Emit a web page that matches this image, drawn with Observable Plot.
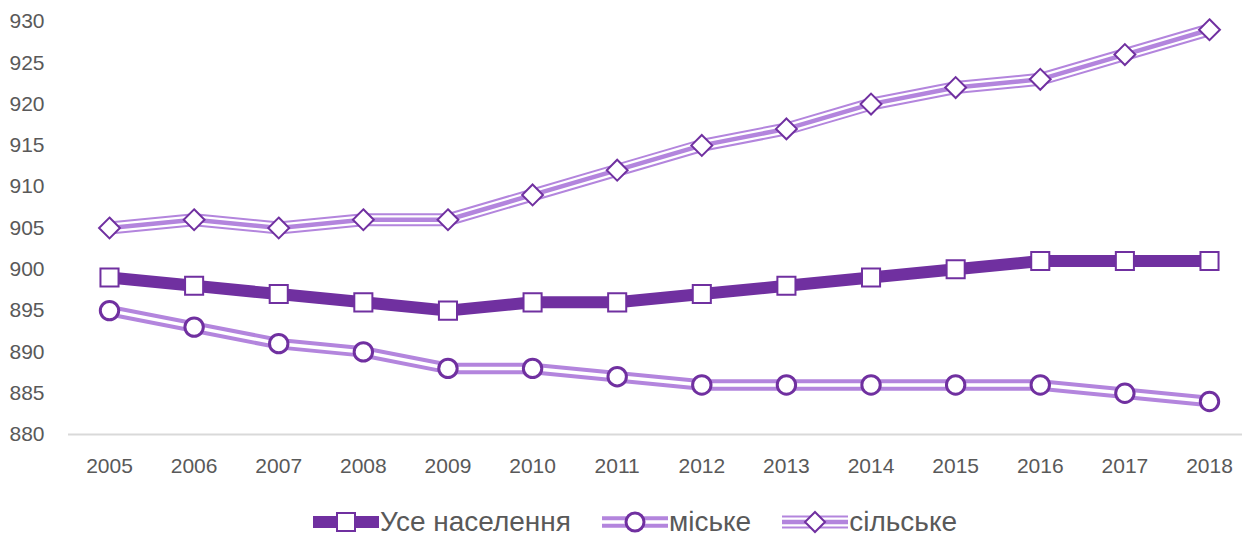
<!DOCTYPE html>
<html>
<head>
<meta charset="utf-8">
<script src="https://cdn.jsdelivr.net/npm/d3@7"></script>
<script src="https://cdn.jsdelivr.net/npm/@observablehq/plot@0.6"></script>
<style>
  body { margin: 0; background: white; font-family: "Liberation Sans", Arial, sans-serif; }
  #chart svg { display: block; }
  #legend { display: flex; align-items: center; height: 64px; padding-left: 313px; color: #595959; font-size: 28px; }
  .item { display: flex; align-items: center; margin-right: 31px; }
  .item svg { display: block; margin-right: 1px; }
</style>
</head>
<body>
<div id="chart"></div>
<div id="legend"></div>
<script>
const years = ["2005","2006","2007","2008","2009","2010","2011","2012","2013","2014","2015","2016","2017","2018"];
const total = [899, 898, 897, 896, 895, 896, 896, 897, 898, 899, 900, 901, 901, 901];
const urban = [895, 893, 891, 890, 888, 888, 887, 886, 886, 886, 886, 886, 885, 884];
const rural = [905, 906, 905, 906, 906, 909, 912, 915, 917, 920, 922, 923, 926, 929];
const yTicks = [880, 885, 890, 895, 900, 905, 910, 915, 920, 925, 930];
const seriesNames = ["Усе населення", "міське", "сільське"];

const dark = "#7030A0";
const light = "#B385DD";

const data = years.map((y, i) => ({year: y, total: total[i], urban: urban[i], rural: rural[i]}));

const lineOpts = (k, stroke, w) => ({x: "year", y: k, stroke, strokeWidth: w, strokeLinejoin: "round", strokeLinecap: "butt"});

const chart = Plot.plot({
  width: 1242,
  height: 490,
  marginLeft: 68,
  marginRight: 0,
  marginTop: 21,
  marginBottom: 56,
  x: {type: "point", domain: years, range: [109, 1209], padding: 0, align: 0.5, round: false, label: null},
  y: {domain: [880, 930], range: [434, 21], label: null},
  style: {fontFamily: "'Liberation Sans', Arial, sans-serif", fontSize: "21px", color: "#595959", background: "white"},
  marks: [
    Plot.ruleY([880], {stroke: "#D9D9D9", strokeWidth: 2}),
    Plot.axisY({ticks: yTicks, tickSize: 0, tickPadding: 24, fill: "#595959", fontSize: 21}),
    Plot.axisX({tickSize: 0, tickPadding: 24, fill: "#595959", fontSize: 21}),
    // total
    Plot.line(data, lineOpts("total", dark, 12)),
    // urban: double line
    Plot.line(data, lineOpts("urban", light, 11.5)),
    Plot.line(data, lineOpts("urban", "white", 3.5)),
    // rural: triple line
    Plot.line(data, lineOpts("rural", light, 13)),
    Plot.line(data, lineOpts("rural", "white", 9)),
    Plot.line(data, lineOpts("rural", light, 4.5)),
    Plot.dot(data, {x: "year", y: "total", symbol: "square", r: 10.2, fill: "white", stroke: dark, strokeWidth: 2}),
    Plot.dot(data, {x: "year", y: "urban", symbol: "circle", r: 9.2, fill: "white", stroke: dark, strokeWidth: 3}),
    Plot.dot(data, {x: "year", y: "rural", symbol: "diamond2", r: 9.4, fill: "white", stroke: dark, strokeWidth: 2})
  ]
});
document.getElementById("chart").appendChild(chart);

// legend
const samples = [
  `<line x1="0" y1="14" x2="66" y2="14" stroke="${dark}" stroke-width="12"/>
   <rect x="24" y="5" width="18" height="18" fill="white" stroke="${dark}" stroke-width="2"/>`,
  `<line x1="0" y1="14" x2="66" y2="14" stroke="${light}" stroke-width="11.5"/>
   <line x1="0" y1="14" x2="66" y2="14" stroke="white" stroke-width="3.5"/>
   <circle cx="33" cy="14" r="9" fill="white" stroke="${dark}" stroke-width="3"/>`,
  `<line x1="0" y1="14" x2="66" y2="14" stroke="${light}" stroke-width="13"/>
   <line x1="0" y1="14" x2="66" y2="14" stroke="white" stroke-width="9"/>
   <line x1="0" y1="14" x2="66" y2="14" stroke="${light}" stroke-width="4.5"/>
   <path d="M33,4 L43,14 L33,24 L23,14 Z" fill="white" stroke="${dark}" stroke-width="2"/>`
];
const legend = document.getElementById("legend");
seriesNames.forEach((name, i) => {
  const div = document.createElement("div");
  div.className = "item";
  div.innerHTML = `<svg width="66" height="28">${samples[i]}</svg><span>${name}</span>`;
  legend.appendChild(div);
});
</script>
</body>
</html>
